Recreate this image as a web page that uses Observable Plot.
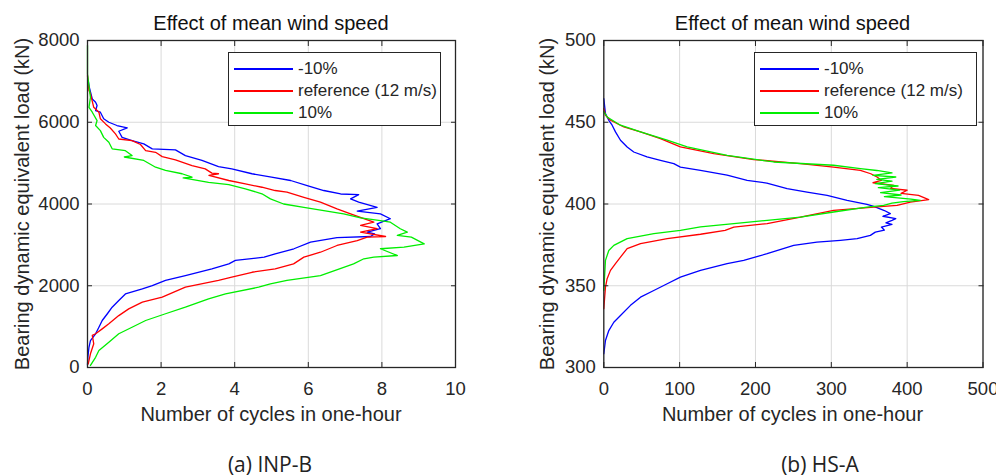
<!DOCTYPE html>
<html>
<head>
<meta charset="utf-8">
<script src="https://cdn.jsdelivr.net/npm/d3@7"></script>
<script src="https://cdn.jsdelivr.net/npm/@observablehq/plot@0.6"></script>
<style>
  html, body { margin: 0; padding: 0; background: #fff; }
  #wrap { position: relative; width: 996px; height: 476px; overflow: hidden; background: #fff;
          font-family: "Liberation Sans", Arial, sans-serif; color: #262626; }
  .panel { position: absolute; top: 0; }
  .title, .xlabel, .caption { position: absolute; text-align: center; white-space: nowrap; transform: translate(-50%, -50%); line-height: 1; }
  .title { font-size: 20px; color: #111; }
  .xlabel { font-size: 20px; color: #262626; }
  .ylabel { position: absolute; font-size: 20px; white-space: nowrap; line-height: 1; color: #262626;
            transform: translate(-50%, -50%) rotate(-90deg); }
  .caption { font-family: "Open Sans", sans-serif; font-size: 21px; color: #222; }
  .legend { position: absolute; box-sizing: border-box; border: 1px solid #262626; background: #fff;
            padding-top: 5px; padding-left: 5px; font-size: 17px; }
  .legend .row { height: 22px; display: flex; align-items: center; }
  .legend .swatch { width: 59px; height: 2px; margin-right: 5px; flex: none; }
</style>
</head>
<body>
<div id="wrap">
  <div id="panelA" class="panel" style="left:0"></div>
  <div id="panelB" class="panel" style="left:498px"></div>
</div>
<script>
// Load levels (kN) and number of cycles in one hour, listed from the top of each curve down.
// Panel (a) INP-B
const inpB_minus10 = [
  [7020,0.02],[6850,0.05],[6570,0.13],[6490,0.22],[6410,0.26],[6285,0.22],[6245,0.35],[6085,0.44],
  [6000,0.58],[5920,0.8],[5860,1.08],[5780,0.85],[5630,0.94],[5550,1.21],[5470,1.53],[5350,1.76],
  [5325,2.39],[5185,2.66],[5065,3.11],[4915,3.56],[4860,3.92],[4740,4.47],[4655,5.0],[4575,5.52],
  [4450,5.97],[4330,6.42],[4245,6.88],[4230,7.37],[4125,7.15],[4045,7.37],[3920,7.87],[3825,7.33],
  [3760,7.96],[3640,8.23],[3515,7.87],[3395,7.96],[3310,7.6],[3270,7.8],[3205,7.69],[3175,6.78],
  [3065,6.06],[2905,5.61],[2780,5.1],[2700,4.8],[2620,4.02],[2535,3.84],[2415,3.38],[2250,2.66],
  [2130,2.12],[2005,1.76],[1925,1.49],[1800,1.03],[1640,0.85],[1475,0.67],[1315,0.54],[1150,0.4],
  [985,0.31],[825,0.22],[660,0.08],[495,0.04],[250,0.01],[60,0]
];
const inpB_reference = [
  [7140,0.0],[6775,0.04],[6695,0.08],[6365,0.17],[6245,0.31],[6085,0.35],[5960,0.49],[5860,0.62],
  [5715,0.76],[5590,0.85],[5550,1.21],[5455,1.44],[5305,1.58],[5265,1.85],[5160,2.03],[5080,2.39],
  [4940,2.84],[4860,3.2],[4755,3.38],[4740,3.56],[4700,3.3],[4575,3.84],[4490,4.29],[4410,4.74],
  [4330,5.1],[4290,5.42],[4165,5.88],[4045,6.33],[3880,6.78],[3760,7.15],[3640,7.51],[3555,7.78],
  [3475,7.42],[3395,7.87],[3310,7.42],[3205,8.1],[3190,7.6],[3105,7.33],[2985,6.78],[2820,6.33],
  [2700,5.88],[2535,5.6],[2415,5.1],[2330,4.47],[2210,3.92],[2130,3.56],[1965,2.66],[1720,2.03],
  [1600,1.49],[1435,1.12],[1270,0.85],[1070,0.58],[945,0.4],[825,0.22],[785,0.13],[580,0.17],
  [335,0.08],[90,0.02]
];
const inpB_plus10 = [
  [7880,0],[7180,0.0],[6610,0.08],[6365,0.04],[6245,0.13],[6040,0.26],[5920,0.22],[5795,0.35],
  [5630,0.44],[5510,0.58],[5350,0.67],[5305,1.03],[5185,1.21],[5150,1.0],[5065,1.53],[4900,1.85],
  [4820,2.12],[4740,2.57],[4655,2.84],[4640,2.6],[4530,3.29],[4475,3.84],[4370,4.29],[4250,4.74],
  [4125,4.97],[4000,5.33],[3920,5.88],[3840,6.42],[3760,6.96],[3660,7.42],[3595,7.96],[3555,8.23],
  [3395,8.5],[3310,8.69],[3230,8.42],[3190,8.8],[3025,9.15],[2945,8.6],[2905,7.96],[2740,8.42],
  [2700,7.78],[2660,7.51],[2535,7.23],[2250,6.33],[2130,5.42],[2045,4.97],[1965,4.65],[1800,3.75],
  [1680,3.29],[1475,2.66],[1315,2.12],[1150,1.58],[985,1.21],[825,0.85],[620,0.58],[415,0.31],
  [250,0.22],[50,0.08]
];

// Panel (b) HS-A
const hsA_minus10 = [
  [464.5,0],[455.3,2.2],[451.2,6.6],[448.2,11],[444.1,15.4],[439,22],[434.9,30.8],[431.8,39.5],
  [428.8,57],[426.7,74.7],[424.7,92.3],[422.6,101],[420.6,127.5],[417.6,162.6],[414.5,189],[412.8,215],
  [409.4,241.7],[407.3,268],[405.3,294.5],[402.2,320.8],[399.8,347],[398.6,356],[396,370],[394.1,377.8],
  [392.5,368],[391,385],[390,380],[388.5,372],[387.5,380],[385.9,366],[384,370],[382.8,358],
  [380.8,351.5],[378.8,334],[377.8,312],[376.7,281],[374.7,250.4],[369.6,215.4],[365.5,184.5],
  [363.5,162.6],[359.4,127.5],[355.3,101],[351.2,83.6],[347.1,65.9],[343,48.4],[338,35.2],
  [331.8,22],[327.7,13.2],[322.6,6.6],[316.5,2.2],[308.4,0]
];
const hsA_reference = [
  [458.4,0],[454.3,2.2],[451.2,8.8],[447.1,26.4],[444.1,48.4],[440,74.7],[434.9,101],[430.8,145],
  [427.2,197.7],[424.7,259.3],[422.6,303],[420.6,338.3],[418.5,352],[416.5,360.3],[414.5,366],
  [413,355],[411.4,382.2],[409.5,378],[408.4,400],[406.5,392],[405.3,415],[402.7,428.4],
  [401.2,404.2],[399.2,386.7],[398.1,356],[396.1,303],[392,259.3],[388,215.4],[385.9,171.4],
  [383.9,160],[381.5,127.5],[378.8,83.6],[375.7,48.4],[372.7,30.8],[367.5,22],[363.5,15.4],
  [359.4,8.8],[354.3,4.4],[349.2,2.2],[335.9,0]
];
const hsA_plus10 = [
  [456.5,0],[453.2,4.4],[448.2,22],[444.1,48.4],[439,83.6],[434.9,110],[429.8,162.6],[425.7,224],
  [423.7,303],[421.7,338.3],[420.5,360],[419,380],[417.5,355],[416.5,385],[415,360],[414,380],
  [412.5,358],[411,388],[410,362],[408.5,390],[407,365],[405.5,392],[404.5,370],[403,405],
  [402.2,417.4],[401.5,395],[400.5,380],[399.2,369],[398.1,347],[395.1,303],[392,259.3],[390,215.4],
  [388,171.4],[386,127.5],[383.9,101],[381.9,66],[378.8,30.8],[374.7,13.2],[371.6,6.6],[365.5,2.2],
  [347.1,0]
];

// Axis ticks
const xTicksA = [0, 2, 4, 6, 8, 10];
const yTicksA = [0, 2000, 4000, 6000, 8000];
const xTicksB = [0, 100, 200, 300, 400, 500];
const yTicksB = [300, 350, 400, 450, 500];

// Series labels and colours
const seriesNames = ["-10%", "reference (12 m/s)", "10%"];
const seriesColors = ["#0000ff", "#ff0000", "#00ee00"];

const titleText = "Effect of mean wind speed";
const xLabelText = "Number of cycles in one-hour";
const yLabelText = "Bearing dynamic equivalent load (kN)";

function panel({series, xDomain, yDomain, xTicks, yTicks, marginLeft, marginRight}) {
  const ink = "#262626";
  const grid = "#dadada";
  const plain = d => String(d);
  const lines = series.map((s, i) =>
    Plot.line(s, {x: d => d[1], y: d => d[0], stroke: seriesColors[i], strokeWidth: 1.3, curve: "linear"})
  );
  return Plot.plot({
    width: 498,
    height: 476,
    marginTop: 40,
    marginBottom: 109,
    marginLeft,
    marginRight,
    style: {fontFamily: "Liberation Sans, Arial, sans-serif", fontSize: "18.5px", color: ink, background: "transparent"},
    x: {domain: xDomain, ticks: xTicks},
    y: {domain: yDomain, ticks: yTicks},
    marks: [
      Plot.gridX(xTicks, {stroke: grid, strokeOpacity: 1, strokeWidth: 1}),
      Plot.gridY(yTicks, {stroke: grid, strokeOpacity: 1, strokeWidth: 1}),
      ...lines,
      Plot.frame({stroke: ink, strokeWidth: 1.3}),
      Plot.axisX(xTicks, {anchor: "bottom", tickSize: -5, tickPadding: 19.5, tickFormat: plain, label: null, stroke: ink, fill: ink}),
      Plot.axisX(xTicks, {anchor: "top", tickSize: -5, tickFormat: () => "", label: null, stroke: ink}),
      Plot.axisY(yTicks, {anchor: "left", tickSize: -5, tickPadding: 13, tickFormat: plain, label: null, stroke: ink, fill: ink}),
      Plot.axisY(yTicks, {anchor: "right", tickSize: -5, tickFormat: () => "", label: null, stroke: ink})
    ]
  });
}

document.getElementById("panelA").append(panel({
  series: [inpB_minus10, inpB_reference, inpB_plus10],
  xDomain: [0, 10], yDomain: [0, 8000], xTicks: xTicksA, yTicks: yTicksA,
  marginLeft: 87, marginRight: 43
}));
document.getElementById("panelB").append(panel({
  series: [hsA_minus10, hsA_reference, hsA_plus10],
  xDomain: [0, 500], yDomain: [300, 500], xTicks: xTicksB, yTicks: yTicksB,
  marginLeft: 105.3, marginRight: 13.5
}));

// Titles, axis titles, legends and captions
const wrap = document.getElementById("wrap");
function addText(cls, text, x, y) {
  const el = document.createElement("div");
  el.className = cls;
  el.textContent = text;
  el.style.left = x + "px";
  el.style.top = y + "px";
  wrap.append(el);
}
function addLegend(x, y, w, h) {
  const box = document.createElement("div");
  box.className = "legend";
  Object.assign(box.style, {left: x + "px", top: y + "px", width: w + "px", height: h + "px"});
  seriesNames.forEach((name, i) => {
    const row = document.createElement("div");
    row.className = "row";
    const sw = document.createElement("div");
    sw.className = "swatch";
    sw.style.background = seriesColors[i];
    const lab = document.createElement("span");
    lab.textContent = name;
    row.append(sw, lab);
    box.append(row);
  });
  wrap.append(box);
}

addText("title", titleText, 271, 23);
addText("title", titleText, 792.5, 23);
addText("ylabel", yLabelText, 22, 204);
addText("ylabel", yLabelText, 547, 204);
addText("xlabel", xLabelText, 271, 414);
addText("xlabel", xLabelText, 792.5, 414);
addText("caption", "(a) INP-B", 270, 464);
addText("caption", "(b) HS-A", 820, 464);
addLegend(228, 52, 213, 74);
addLegend(754, 52, 223, 74);
</script>
</body>
</html>
